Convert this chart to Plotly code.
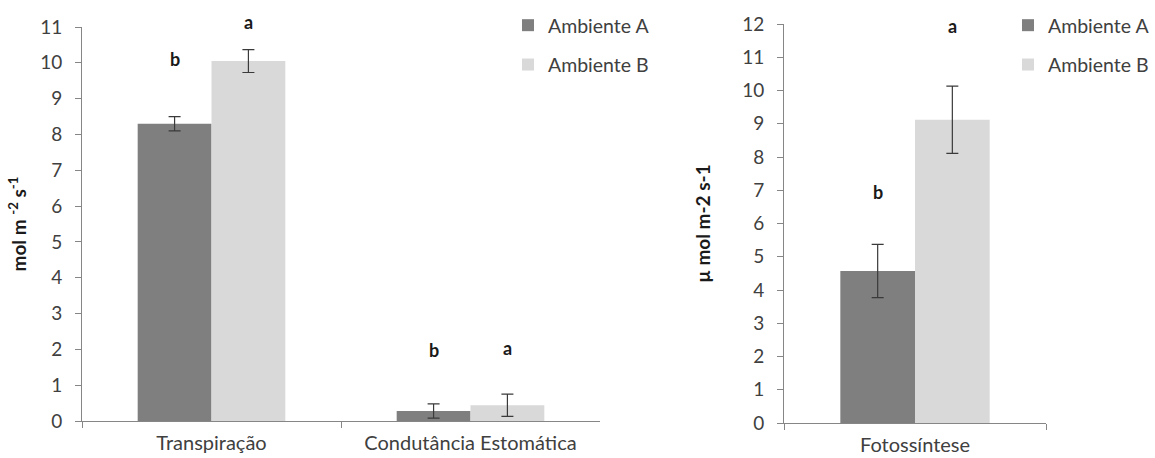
import plotly.graph_objects as go

# ---------------- data ----------------
cats_left = ["Transpiração", "Condutância Estomática"]
amb_a_left = [8.30, 0.28]
err_a_left = [0.20, 0.20]
amb_b_left = [10.05, 0.44]
err_b_left = [0.32, 0.31]
letters_a_left = ["b", "b"]
letters_a_left_y = [10.1, 1.98]
letters_b_left = ["a", "a"]
letters_b_left_y = [11.15, 2.04]

cats_right = ["Fotossíntese"]
amb_a_right = [4.57]
err_a_right = [0.80]
amb_b_right = [9.12]
err_b_right = [1.01]
letters_a_right = ["b"]
letters_a_right_y = [6.95]
letters_b_right = ["a"]
letters_b_right_y = [11.95]

left_max = 11
right_max = 12
left_ticks = list(range(0, left_max + 1))
right_ticks = list(range(0, right_max + 1))

# ---------------- style ----------------
COL_A = "#7f7f7f"
COL_B = "#d9d9d9"
AXIS_COL = "#868686"
TXT = "#404040"
FONT = "Lato"
BARGAP = 0.43
W, H = 1155, 458

err_style = dict(type="data", color="#3a3a3a", thickness=1.2, width=6, visible=True)

fig = go.Figure()

fig.add_trace(go.Bar(x=cats_left, y=amb_a_left, name="Ambiente A", marker_color=COL_A,
                     marker_line_width=0,
                     error_y=dict(array=err_a_left, **err_style),
                     xaxis="x", yaxis="y", legend="legend", legendgroup="A1"))
fig.add_trace(go.Bar(x=cats_left, y=amb_b_left, name="Ambiente B", marker_color=COL_B,
                     marker_line_width=0,
                     error_y=dict(array=err_b_left, **err_style),
                     xaxis="x", yaxis="y", legend="legend", legendgroup="B1"))
fig.add_trace(go.Bar(x=cats_right, y=amb_a_right, name="Ambiente A", marker_color=COL_A,
                     marker_line_width=0,
                     error_y=dict(array=err_a_right, **err_style),
                     xaxis="x2", yaxis="y2", legend="legend2", legendgroup="A2"))
fig.add_trace(go.Bar(x=cats_right, y=amb_b_right, name="Ambiente B", marker_color=COL_B,
                     marker_line_width=0,
                     error_y=dict(array=err_b_right, **err_style),
                     xaxis="x2", yaxis="y2", legend="legend2", legendgroup="B2"))

# letters above bars (x from grouped-bar offsets, y in axis-domain units from data value)
off = (1 - BARGAP) / 4
annots = []
def add_letters(letters, ys, sign, xref, yref, ymax):
    for i, (t, yv) in enumerate(zip(letters, ys)):
        annots.append(dict(x=i + sign * off, y=yv / ymax, xref=xref, yref=yref + " domain",
                           text=f"<b>{t}</b>",
                           showarrow=False, font=dict(size=18, color="#1a1a1a", family=FONT),
                           xanchor="center", yanchor="middle"))
add_letters(letters_a_left, letters_a_left_y, -1, "x", "y", left_max)
add_letters(letters_b_left, letters_b_left_y, +1, "x", "y", left_max)
add_letters(letters_a_right, letters_a_right_y, -1, "x2", "y2", right_max)
add_letters(letters_b_right, letters_b_right_y, +1, "x2", "y2", right_max)

xaxis_common = dict(type="category", showline=True, linecolor=AXIS_COL, linewidth=1,
                    ticks="outside", tickson="boundaries", ticklen=6, tickcolor=AXIS_COL,
                    showgrid=False, zeroline=False, tickfont=dict(size=20, color=TXT, family=FONT),
                    ticklabelstandoff=4, fixedrange=True, automargin=False)
yaxis_common = dict(showline=True, linecolor=AXIS_COL, linewidth=1, ticks="outside", ticklen=6,
                    tickcolor=AXIS_COL, showgrid=False, zeroline=False,
                    tickfont=dict(size=19, color=TXT, family=FONT), ticklabelstandoff=9,
                    fixedrange=True, automargin=False)

fig.update_layout(
    width=W, height=H,
    margin=dict(l=0, r=0, t=0, b=0, autoexpand=False),
    paper_bgcolor="white", plot_bgcolor="white",
    barmode="group", bargap=BARGAP, bargroupgap=0,
    font=dict(family=FONT, color=TXT),
    xaxis=dict(domain=[82 / W, 600 / W], anchor="y", **xaxis_common),
    yaxis=dict(domain=[1 - 421 / H, 1 - 27 / H], anchor="x", range=[0, left_max],
               tickvals=left_ticks,
               title=dict(text="<b>mol m <sup>-2</sup> s<sup>-1</sup></b>", standoff=8,
                          font=dict(size=19, color="#1a1a1a", family=FONT)),
               **yaxis_common),
    xaxis2=dict(domain=[784 / W, 1046 / W], anchor="y2", **xaxis_common),
    yaxis2=dict(domain=[1 - 423 / H, 1 - 24 / H], anchor="x2", range=[0, right_max],
                tickvals=right_ticks,
                title=dict(text="<b>µ mol m-2 s-1</b>", standoff=26,
                           font=dict(size=19, color="#1a1a1a", family=FONT)),
                **yaxis_common),
    legend=dict(x=508 / W, y=1 - 6 / H, xanchor="left", yanchor="top",
                font=dict(size=19.5, color=TXT, family=FONT), tracegroupgap=11,
                bgcolor="rgba(0,0,0,0)", itemclick=False, itemdoubleclick=False),
    legend2=dict(x=1008 / W, y=1 - 6 / H, xanchor="left", yanchor="top",
                 font=dict(size=19.5, color=TXT, family=FONT), tracegroupgap=11,
                 bgcolor="rgba(0,0,0,0)", itemclick=False, itemdoubleclick=False),
    annotations=annots,
    showlegend=True,
)

fig.write_html("out.html", config={"displayModeBar": False})
